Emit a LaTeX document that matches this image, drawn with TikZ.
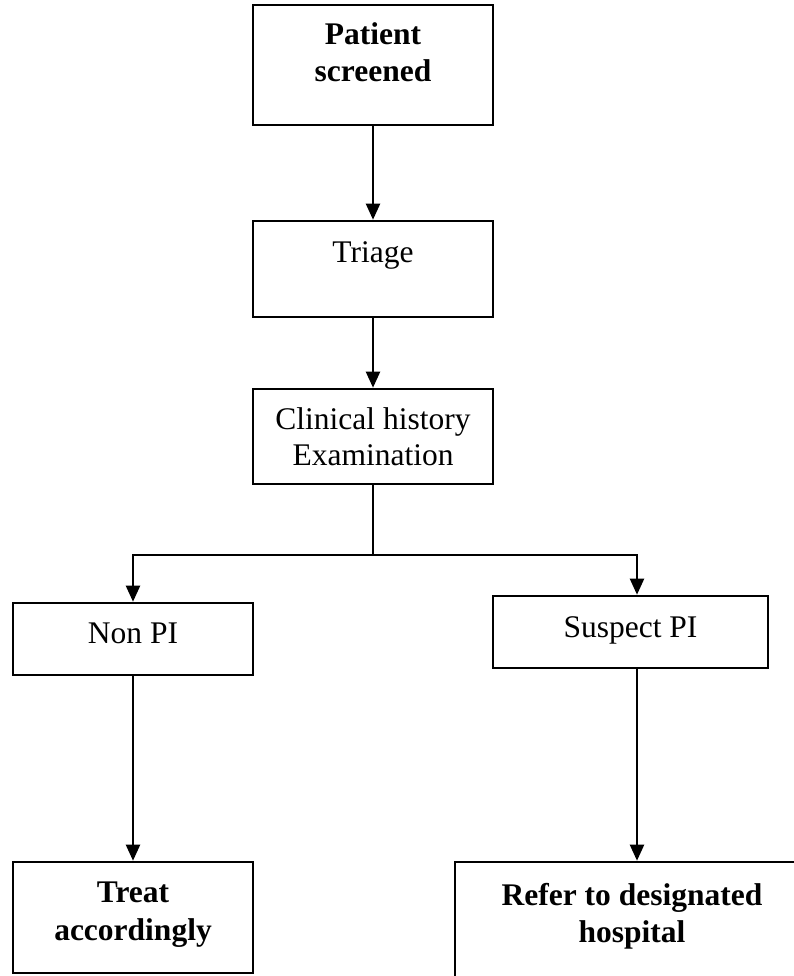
\documentclass[tikz,border=0pt]{standalone}
\usepackage{fontspec}
\setmainfont{Liberation Serif}
\usetikzlibrary{arrows.meta}
\begin{document}
\begin{tikzpicture}[x=1pt,y=-1pt,
  box/.style={draw, line width=2.6pt, inner sep=0pt, rectangle},
  lbl/.style={anchor=base, inner sep=0pt, font=\fontsize{31.5}{37}\selectfont},
  blbl/.style={anchor=base, inner sep=0pt, font=\fontsize{31.5}{37}\selectfont\bfseries},
  conn/.style={line width=2.2pt},
  arr/.style={conn, -{Triangle[length=16pt,width=14pt]}}]
\useasboundingbox (0,0) rectangle (794,976);
\clip (0,0) rectangle (794,976);

% boxes
\node[box, minimum width=240, minimum height=120] (b1) at (373,65) {};
\node[box, minimum width=240, minimum height=96]  (b2) at (373,269) {};
\node[box, minimum width=240, minimum height=95]  (b3) at (373,436.5) {};
\node[box, minimum width=240, minimum height=72]  (b4) at (133,639) {};
\node[box, minimum width=275, minimum height=72]  (b5) at (630.5,632) {};
\node[box, minimum width=240, minimum height=111] (b6) at (133,917.5) {};
\node[box, minimum width=400, minimum height=160] (b7) at (655,942) {};

% texts
\node[blbl] (t1a) at (373,45) {Patient};
\node[blbl] (t1b) at (373,82) {screened};
\node[lbl] (t2) at (373,262) {Triage};
\node[lbl] (t3a) at (373,429) {Clinical history};
\node[lbl] (t3b) at (373,465) {Examination};
\node[lbl] (t4) at (133,643) {Non PI};
\node[lbl] (t5) at (630.5,637) {Suspect PI};
\node[blbl] (t6a) at (133,902) {Treat};
\node[blbl] (t6b) at (133,940) {accordingly};
\node[blbl] (t7a) at (632,905) {Refer to designated};
\node[blbl] (t7b) at (632,942) {hospital};

% junction points
\coordinate (jl) at (133,555);
\coordinate (jr) at (637,555);

% connectors
\draw[arr] (b1.south) -- (b2.north);
\draw[arr] (b2.south) -- (b3.north);
\draw[conn] (b3.south) -- (b3.south |- jl);
\draw[arr] (b3.south |- jl) -| (b4.north);
\draw[arr] (b3.south |- jr) -| (jr |- b5.north);
\draw[arr] (b4.south) -- (b6.north);
\draw[arr] (jr |- b5.south) -- (jr |- b7.north);
\end{tikzpicture}
\end{document}
